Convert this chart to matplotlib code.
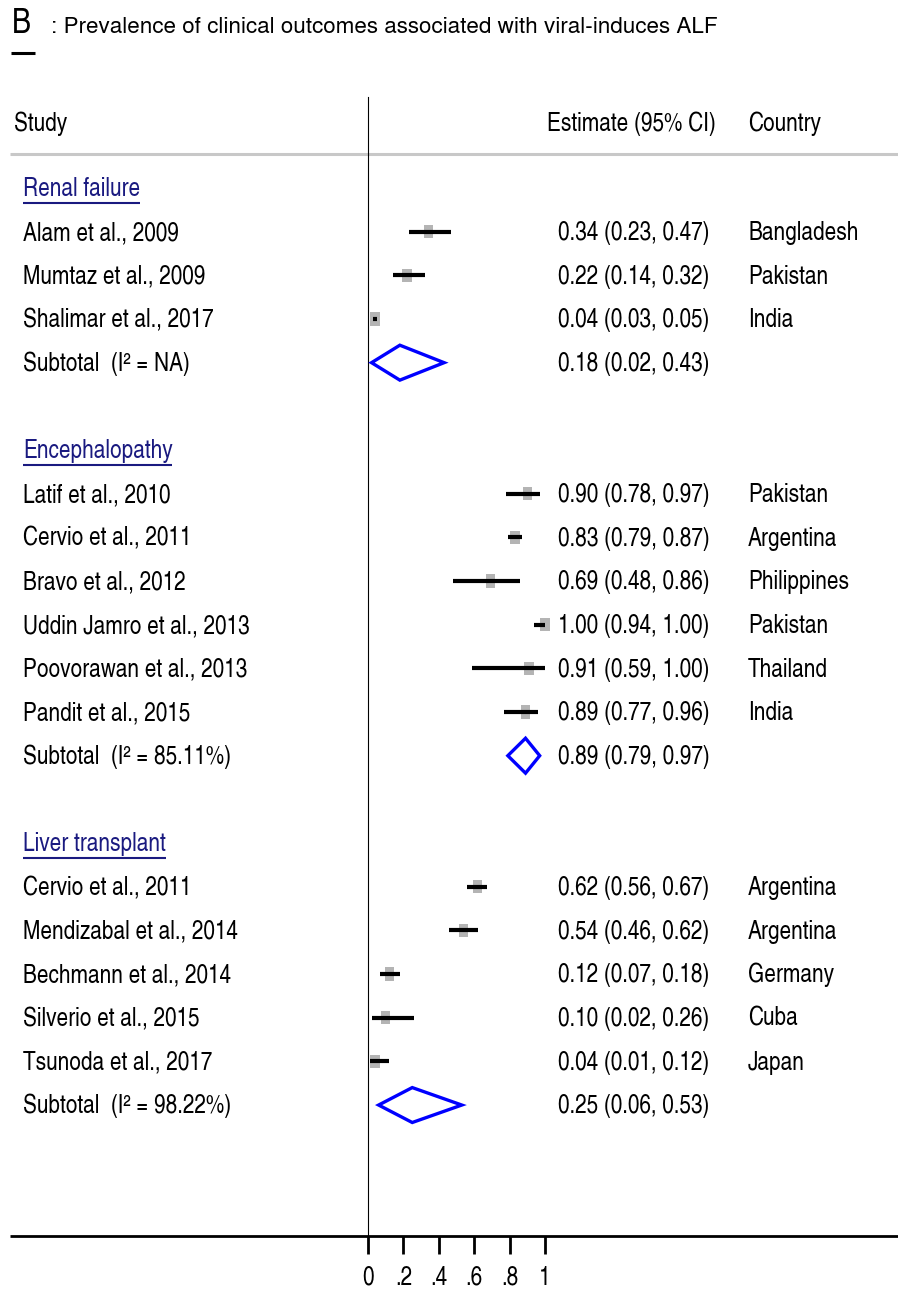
import numpy as np
import matplotlib.pyplot as plt
from matplotlib.patches import Polygon, Rectangle

plt.rcParams['font.family'] = ['TeX Gyre Heros Cn', 'Liberation Sans', 'DejaVu Sans']

# subgroups
groups = ['Renal failure', 'Encephalopathy', 'Liver transplant']
group_i2 = ['NA', '85.11%', '98.22%']
sub_est = [0.18, 0.89, 0.25]
sub_lo = [0.02, 0.79, 0.06]
sub_hi = [0.43, 0.97, 0.53]

# studies
renal_study = ['Alam et al., 2009', 'Mumtaz et al., 2009', 'Shalimar et al., 2017']
renal_est = [0.34, 0.22, 0.04]
renal_lo = [0.23, 0.14, 0.03]
renal_hi = [0.47, 0.32, 0.05]
renal_country = ['Bangladesh', 'Pakistan', 'India']

enc_study = ['Latif et al., 2010', 'Cervio et al., 2011', 'Bravo et al., 2012',
             'Uddin Jamro et al., 2013', 'Poovorawan et al., 2013', 'Pandit et al., 2015']
enc_est = [0.90, 0.83, 0.69, 1.00, 0.91, 0.89]
enc_lo = [0.78, 0.79, 0.48, 0.94, 0.59, 0.77]
enc_hi = [0.97, 0.87, 0.86, 1.00, 1.00, 0.96]
enc_country = ['Pakistan', 'Argentina', 'Philippines', 'Pakistan', 'Thailand', 'India']

lt_study = ['Cervio et al., 2011', 'Mendizabal et al., 2014', 'Bechmann et al., 2014',
            'Silverio et al., 2015', 'Tsunoda et al., 2017']
lt_est = [0.62, 0.54, 0.12, 0.10, 0.04]
lt_lo = [0.56, 0.46, 0.07, 0.02, 0.01]
lt_hi = [0.67, 0.62, 0.18, 0.26, 0.12]
lt_country = ['Argentina', 'Argentina', 'Germany', 'Cuba', 'Japan']

xticks = [0, 0.2, 0.4, 0.6, 0.8, 1.0]
xtick_labels = ['0', '.2', '.4', '.6', '.8', '1']

study_sets = [
    (renal_study, renal_est, renal_lo, renal_hi, renal_country),
    (enc_study, enc_est, enc_lo, enc_hi, enc_country),
    (lt_study, lt_est, lt_lo, lt_hi, lt_country),
]

fig = plt.figure(figsize=(8.98, 12.95), dpi=100)
ax = fig.add_axes([0, 0, 1, 1])
ax.set_xlim(-368 / 177, (898 - 368) / 177)
ax.set_ylim(25.35, -4.305)
ax.axis('off')

FS = 18.3
X_LAB = -1.95
X_EST = 1.073
X_CTY = 2.147
BASE = 0.19   # text baseline below the row centre
NAVY = '#1a1a80'

headings = []
row = 0
for g, (names, est, lo, hi, cty) in enumerate(study_sets):
    t = ax.text(X_LAB, row + BASE, groups[g], fontsize=FS, color=NAVY,
                va='baseline', ha='left')
    headings.append((t, row))
    row += 1
    for k in range(len(names)):
        ax.text(X_LAB, row + BASE, names[k], fontsize=FS, va='baseline', ha='left')
        ax.add_patch(Rectangle((est[k] - 0.026, row - 0.15), 0.052, 0.30,
                               facecolor='#b4b4b4', edgecolor='none', zorder=2))
        ax.plot([lo[k], hi[k]], [row, row], color='black', lw=3,
                solid_capstyle='butt', zorder=3)
        ax.text(X_EST, row + BASE, f'{est[k]:.2f} ({lo[k]:.2f}, {hi[k]:.2f})',
                fontsize=FS, va='baseline', ha='left')
        ax.text(X_CTY, row + BASE, cty[k], fontsize=FS, va='baseline', ha='left')
        row += 1
    ax.text(X_LAB, row + BASE, f'Subtotal  (I² = {group_i2[g]})', fontsize=FS,
            va='baseline', ha='left')
    ax.add_patch(Polygon([[sub_lo[g], row], [sub_est[g], row - 0.4],
                          [sub_hi[g], row], [sub_est[g], row + 0.4]],
                         closed=True, fill=False, edgecolor='#0000ff', lw=2.4,
                         joinstyle='miter', zorder=3))
    ax.text(X_EST, row + BASE, f'{sub_est[g]:.2f} ({sub_lo[g]:.2f}, {sub_hi[g]:.2f})',
            fontsize=FS, va='baseline', ha='left')
    row += 2

# header
ax.text(-2.0, -1.31, 'Study', fontsize=FS, va='baseline', ha='left')
ax.text(1.966, -1.31, 'Estimate (95% CI)', fontsize=FS, va='baseline', ha='right')
ax.text(X_CTY, -1.31, 'Country', fontsize=FS, va='baseline', ha='left')
ax.plot([-2.02, 3.0], [-0.78, -0.78], color='#c8c8c8', lw=2.2, solid_capstyle='butt')

# title
tb = ax.text(-2.01, -3.55, 'B', fontsize=25, va='baseline', ha='left')
ax.text(-1.79, -3.55, ': Prevalence of clinical outcomes associated with viral-induces ALF',
        fontsize=16.2, va='baseline', ha='left',
        family=['TeX Gyre Heros', 'Liberation Sans', 'DejaVu Sans'])

# null line and x axis
ax.plot([0, 0], [-2.08, 24], color='black', lw=0.8)
ax.plot([-2.02, 3.0], [24, 24], color='black', lw=2, solid_capstyle='butt')
for xv, lab in zip(xticks, xtick_labels):
    ax.plot([xv, xv], [24, 24.4], color='black', lw=2, solid_capstyle='butt')
    ax.text(xv, 25.12, lab, fontsize=FS, va='baseline', ha='center')

# underline the group headings and the panel letter
fig.canvas.draw()
r = fig.canvas.get_renderer()
inv = ax.transData.inverted()
for t, yrow in headings:
    bb = t.get_window_extent(r)
    (x0, _), (x1, _) = inv.transform([[bb.x0, bb.y0], [bb.x1, bb.y1]])
    ax.plot([x0, x1], [yrow + 0.34, yrow + 0.34], color=NAVY, lw=1.5,
            solid_capstyle='butt')
bb = tb.get_window_extent(r)
(x0, _), (x1, _) = inv.transform([[bb.x0, bb.y0], [bb.x1, bb.y1]])
ax.plot([x0 - 0.005, x1 + 0.02], [-3.09, -3.09], color='black', lw=2.2,
        solid_capstyle='butt')

fig.savefig('out.png', dpi=100)
